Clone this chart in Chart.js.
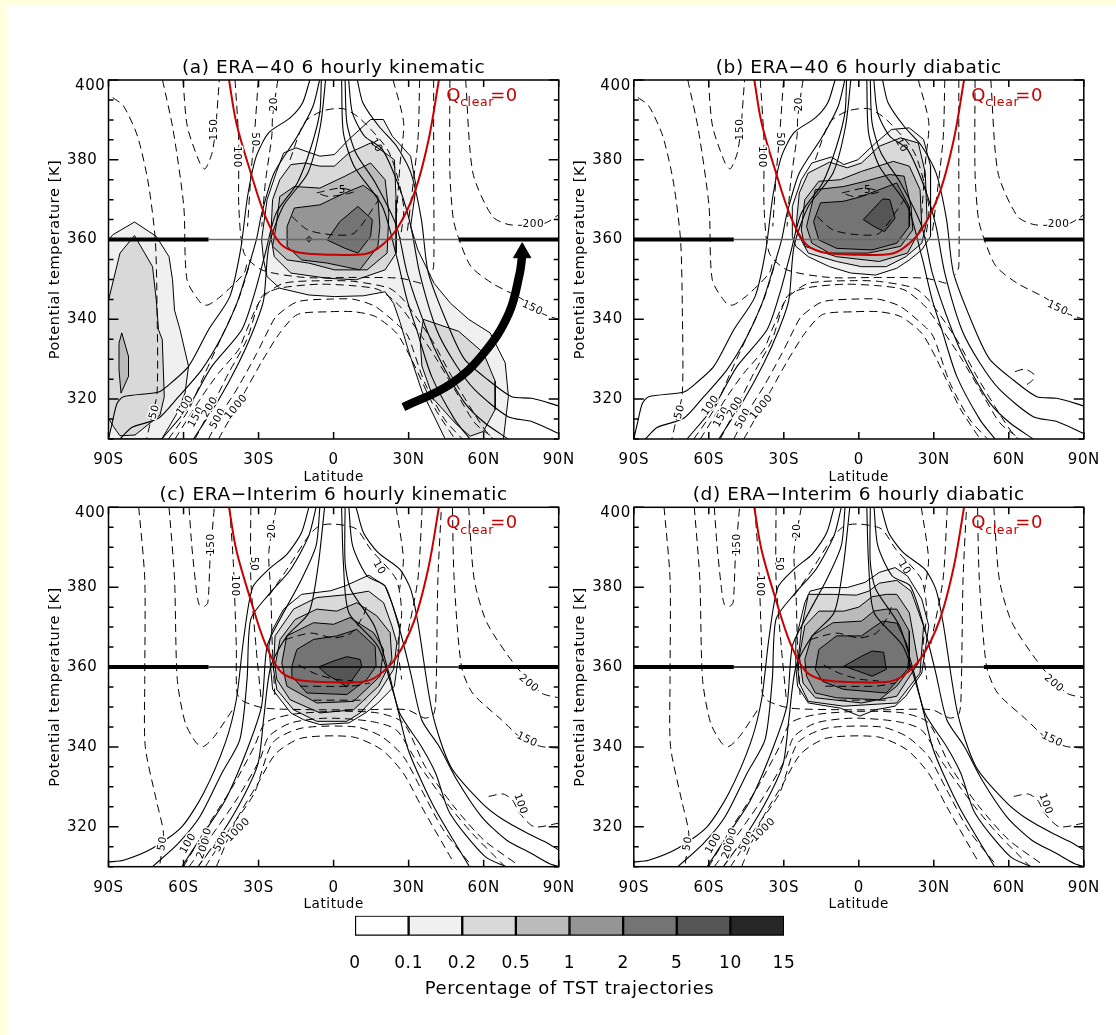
<!DOCTYPE html>
<html>
<head>
<meta charset="utf-8">
<title>TST trajectories</title>
<script src="https://cdn.jsdelivr.net/npm/chart.js@4"></script>
<style>
html, body { margin: 0; background: #fff; }
#page { position: relative; width: 1116px; height: 1035px; overflow: hidden; background: #fff; }
#edgeLeft { position: absolute; left: 0; top: 0; width: 7px; height: 1035px; background: #ffffdf; }
#edgeTop { position: absolute; left: 0; top: 0; width: 1116px; height: 5px; background: #ffffdf; }
canvas { position: absolute; }
</style>
</head>
<body>
<div id="page">
  <div id="edgeLeft"></div>
  <div id="edgeTop"></div>
  <canvas id="panelA" width="551" height="445" style="left:40px;top:45px"></canvas>
  <canvas id="panelB" width="551" height="445" style="left:565px;top:45px"></canvas>
  <canvas id="panelC" width="551" height="445" style="left:40px;top:472px"></canvas>
  <canvas id="panelD" width="551" height="445" style="left:565px;top:472px"></canvas>
  <canvas id="colorBar" width="490" height="103" style="left:330px;top:905px"></canvas>
</div>
<script>
// axes
const latTickLabels = ['90S', '60S', '30S', '0', '30N', '60N', '90N'];
const barTickLabels = ['0', '0.1', '0.2', '0.5', '1', '2', '5', '10', '15'];
const shadeColors = ['#ffffff', '#f0f0f0', '#d9d9d9', '#bbbbbb', '#959595', '#747474', '#555555', '#262626'];

// Q_clear = 0 curve, same in all panels
const qClearLine = [[-41.8,400],[-38.9,389.3],[-33.1,376.7],[-27.3,365.8],[-21.5,359.1],[-15.7,357],[-8.4,356.4],[0.3,356.2],[11.9,356.3],[17.7,357.8],[25,362.4],[32.3,371.7],[38,385.1],[42.1,400]];

// 360 K line
const line360Left = [[-90,360],[-50,360]];
const line360Mid = [[-50,360],[50,360]];
const line360Right = [[50,360],[90,360]];

// arrow in panel a
const arrowShaft = [[27.9,318],[46.8,323.8],[59.9,331.4],[70,341.4],[74.4,351.5],[75.4,356]];
const arrowTip = [[75.4,356.7]];

// ERA-40 solid contours, left and right branches
const e40SolidL1 = [[-90,310],[-88.6,313.8],[-86.6,318.9],[-84,320.6],[-70.3,321.7],[-67,323],[-58,328.2],[-50,337.4],[-41.5,345.7],[-37.2,357.4],[-34.4,370.8],[-30.9,380.9],[-25.9,386.8],[-17.4,390.5],[-12.4,394.3],[-9.5,400]];
const e40SolidL2 = [[-85.4,310],[-80.7,312.9],[-70,315.2],[-62,320.6],[-52.7,327.4],[-44.7,335.7],[-38.7,344],[-34.4,352.4],[-30.9,359.9],[-28.7,366.6],[-23.8,376.7],[-14.5,385.9],[-8.2,393.5],[-5.6,400]];
const e40SolidL3 = [[-68.7,310],[-58,318.1],[-48.7,328.2],[-36.7,337.4],[-31.6,346.5],[-27.3,356.6],[-23,366.6],[-14.5,374.2],[-8.9,383.4],[-5.5,392],[-4.9,400]];
const e40SolidL4 = [[-56,310],[-46,319.8],[-38,329],[-32,337.4],[-28,344.8],[-25.9,358.3],[-20.2,368.3],[-10.3,376.7],[-5.3,388.4],[-3.2,400]];
const e40SolidR1 = [[9.5,400],[11.7,394.3],[18.1,388.4],[25.2,383.4],[30.9,376.7],[35.1,365],[37.9,351.6],[46.5,337.4],[52.5,329.9],[61.8,324.8],[71.2,320.6],[79.2,320.2],[90,318.3]];
const e40SolidR2 = [[6,400],[7.5,391.8],[12.4,385.9],[19.5,382.6],[26.6,372.5],[30.9,363.3],[34.4,351.6],[41.2,337.4],[48.5,329],[56.5,322.3],[69.8,315.6],[79.2,314.4],[90,311.4]];
const e40SolidR3 = [[4.6,400],[5.3,389.3],[8.9,381.7],[16.7,374.2],[25.2,363.3],[29.4,351.6],[37.2,337.4],[43.2,329],[52.5,319],[60.5,314],[69.8,310]];
const e40SolidR4 = [[3.2,400],[3.9,386.8],[8.2,378.4],[19.5,368.3],[25.2,355.7],[29.4,344.8],[33.2,337.4],[39.2,325.7],[48.5,314.8],[54.5,310]];

// ERA-40 dashed contours
const e40Dash50 = [[-88.3,395.6],[-84,393.5],[-78.4,385.9],[-74.1,374.2],[-71.3,359.9],[-70.6,343.2],[-70.6,321.4],[-73.4,313.8],[-74.8,310]];
const e40Dash100a = [[-68.4,400],[-64.2,387.6],[-59.9,368.3],[-58.6,349.9],[-53,344],[-50.2,343.6],[-44.5,346.1],[-35.8,351.6],[-34.4,354.9]];
const e40Dash100b = [[-66,310],[-58,317.3],[-51.4,326.5],[-44.7,335.7],[-38,345],[-33,355]];
const e40Dash150 = [[-60.2,400],[-58.5,388.4],[-53.5,379.2],[-51.4,377.7],[-48.6,381.7],[-47.2,387.6],[-45.7,400]];
const e40DashRim = [[-39.4,400],[-37.9,384.2],[-37.9,368.3],[-35.8,356.6],[-28.7,352.4],[-11.7,350.5],[8.2,350.5],[26.6,350.3],[35.1,349]];
const e40DashUp50 = [[-30.1,400],[-31.6,386.8],[-33,376.7],[-34.4,363.3]];
const e40DashUp20 = [[-22.3,400],[-24.4,390.9],[-24.7,386],[-27.3,374.2],[-28.7,363.3]];
const e40DashArch = [[-17.4,380],[-11.7,389.3],[-4.6,392.2],[3.9,392.8],[11,390.1],[22.3,381.7],[28,368.3],[26.6,359.9]];
const e40DashLoop5 = [[-6.7,371.7],[2.5,372.9],[8.2,372],[-1.8,370.8],[-6.7,371.7]];
const e40DashInner = [[-16.7,365.8],[-10.3,362.4],[-0.4,361.2],[8.2,361.6],[18.1,370]];
const e40DashTopR1 = [[23.8,400],[28,389.3],[26.6,379.2],[25.2,366.6]];
const e40DashTopR2 = [[34.4,400],[33.7,385],[29.4,361.6]];
const e40DashTopR3 = [[40,400],[40,376.7],[40,353.2],[38.6,351.1]];
const e40DashR150 = [[46.5,400],[46.5,376.7],[47.9,365],[50.7,359.1],[55,353.2],[63.5,349],[74.8,345.3],[83.3,341.5],[90,340]];
const e40DashR200 = [[52.8,400],[55.7,376.7],[63.5,365.8],[70.6,363.7],[84,364],[90,366.2]];
const e40DashBell1 = [[-46,310],[-35.4,321.9],[-28.7,329.4],[-21.6,336.5],[-14.5,341.2],[-1.8,341.9],[8.2,341.9],[16.7,340.7],[25.2,336.5],[31.2,329.9],[40.5,317.7],[48.5,310]];
const e40DashBell2 = [[-50,310],[-44.7,316.5],[-38,323.2],[-30.7,331.5],[-26,337.4],[-23,340.7],[-14.5,344.4],[-0.4,345.1],[8.2,345],[16.7,343.2],[26.6,338.1],[29.8,335.7],[36.5,324],[44.5,314.8],[51.5,310]];
const e40DashBell3 = [[-55.4,310],[-48.7,318.1],[-42,326.5],[-34.7,334.9],[-28.7,345.7],[-21.6,347.8],[-6,348.8],[8.2,348.4],[18.1,347.4],[26.6,343.2],[33.8,337],[40.5,330.7],[48.5,322.3],[56.5,314],[64.5,310]];
const e40DashBell4 = [[-63.4,310],[-52.7,320.6],[-46,326.5],[-38,332.4],[-34.7,337.4],[-29,345],[-20.2,349],[-1.8,349.7],[8.2,349.5],[22.3,347.8],[28,344.8],[39.2,334.9],[46.5,326.5],[54.5,318.1],[60.5,312.3],[63.8,310]];
const e40DashLoopR = [[62.5,326.9],[66.5,327.5],[70.2,326.1],[69.6,324.8],[65.8,323]];

// ERA-40 contour labels
const e40LabelText = ['150','100','50','20','10','5','200','150','50','100','150','200','500','1000'];
const e40LabelLat = [-47.6,-38.9,-31.7,-23.7,17,3.5,79.9,79.5,-71.6,-59.3,-54.9,-49.4,-46.2,-38.9];
const e40LabelTheta = [387.6,380.7,385.1,393.9,383.6,372.3,363.9,342.8,316.8,318.4,315.5,318,315.1,318];
const e40LabelAngle = [-90,90,90,-90,60,0,0,25,-75,-55,-60,-60,-60,-50];

// ERA-Interim solid contours
const eiSolidL1 = [[-90,311.2],[-84,311.6],[-72.4,314.6],[-60.7,320],[-52,328.4],[-43.3,341],[-38.9,351.8],[-36,366.9],[-32.4,379.9],[-25.9,384.5],[-18.6,388.3],[-12.8,393.7],[-9.9,400]];
const eiSolidL2 = [[-72.4,310],[-62.2,315.8],[-53.5,322.5],[-44.7,333.4],[-37.5,341.8],[-34.6,356.9],[-33.1,372],[-25.9,378.2],[-17.1,384.5],[-9.9,392.9],[-7,400]];
const eiSolidL3 = [[-60.7,310],[-52,318.3],[-43.3,326.7],[-34.6,339.3],[-28.8,350.2],[-26.6,365.2],[-21.5,371.9],[-12.8,382],[-7,390.4],[-5.5,400]];
const eiSolidL4 = [[-54.2,310],[-44.7,318.3],[-36,327.6],[-30.2,335.9],[-28,346.8],[-25.1,360.2],[-18.6,367.8],[-9.9,373.6],[-6.2,385.3],[-3.6,400]];
const eiSolidR1 = [[9,400],[11.9,393.7],[17.7,388.7],[26.4,384.5],[30.8,379.5],[33.7,371.1],[39.5,348.5],[46.8,335.1],[59.2,326],[67.7,321.8],[77.7,318.3],[84.7,316.2],[90,314.2]];
const eiSolidR2 = [[6.1,400],[7.6,390.4],[13.4,382.8],[20.6,380.3],[26.4,369.4],[30.8,358.5],[35.2,346.8],[42.2,340.1],[49.3,331.7],[59.2,322.5],[69.1,316.7],[79.1,313.3],[86.2,310.8],[90,310]];
const eiSolidR3 = [[4.6,400],[4.6,386.2],[6.8,379.5],[16.3,370.3],[22.1,358.5],[26.4,348.5],[35.1,340.1],[40.8,333.4],[46.5,323.4],[60.6,312.5],[69.1,310]];
const eiSolidR4 = [[3.2,400],[3.9,386.2],[6.1,373.6],[17.7,365.2],[24.3,352.7],[29.4,340.1],[33.7,333.4],[40.8,324.2],[54.3,310]];

// ERA-Interim dashed contours
const eiDash50 = [[-77.9,400],[-75.5,382],[-75.5,356.9],[-75.3,340.1],[-70.9,326.7],[-68,318.3],[-69.4,310.8]];
const eiDash100 = [[-65.8,400],[-63.6,382],[-62.5,356.9],[-59.3,346],[-54.9,341],[-52,340.1],[-47.7,342.6],[-40.4,349.3]];
const eiDash150 = [[-57.8,400],[-56.7,390.4],[-54.9,379.5],[-53.8,375.7],[-52,375.1],[-50.3,376.1],[-49.4,387],[-47.7,400]];
const eiDashRim = [[-41.6,400],[-40.1,386.2],[-38.9,365.2],[-38.6,353.5],[-36,351.4],[-27.3,349.7],[-5.5,349.3],[11.9,349.3],[29.3,349.3],[36.6,347.2],[40.2,348.5],[41,355.2],[41.7,382],[43.1,400]];
const eiDashUp50 = [[-33.1,400],[-33.1,382],[-31,365],[-29,352]];
const eiDashUp20 = [[-23,400],[-25.9,388.7],[-25.1,378.6],[-24.5,365],[-23.5,353]];
const eiDashArch = [[-25.9,377.8],[-18.6,384.5],[-9.9,392.9],[-5.5,395.4],[0.3,395.8],[9,394.6],[14.8,389.5],[25,382],[27.2,373.6],[25.7,365.2],[27.2,356.9]];
const eiDashTopR1 = [[25,400],[27.9,387],[26.4,379.5]];
const eiDashTopR2 = [[35.4,400],[33.7,382],[28.6,365.2]];
const eiDashR150 = [[47.5,400],[48.2,382],[51.1,360.2],[55.5,353.5],[67.1,346.8],[75.8,341.8],[83.1,340.1],[90,339.7]];
const eiDashR200 = [[54,400],[56.2,382],[61.3,371.1],[72.9,360.2],[83.1,353.5],[90,352.3]];
const eiDashR100 = [[62,327.6],[67.8,328.2],[71.5,326.7],[74.4,323.4],[80.2,320],[90,320.9]];
const eiDashBell1 = [[-46.9,310],[-38.9,321.7],[-30.2,330.9],[-23,338.4],[-12.8,342.2],[7.6,342.5],[19.2,339.3],[27.9,333.4],[35.2,325],[48.2,310.8]];
const eiDashBell2 = [[-51.3,310],[-41.8,319.2],[-31.7,328.4],[-24.4,341],[-12.8,344.7],[9,345],[19.2,342.6],[27.9,337.6],[35.2,329.2],[43.9,319.2],[55.5,310]];
const eiDashBell3 = [[-57.8,310],[-49.1,317.5],[-38.9,326.7],[-29.5,336.8],[-25.9,342.6],[-17.1,346],[-2.6,347.2],[14.8,346.4],[25,344.3],[33.7,335.9],[45.3,325.9],[55.5,318.3],[68.6,310]];
const eiDashBell4 = [[-60,310],[-50.6,320],[-40.4,330],[-31.7,340.1],[-27.3,346],[-17.1,348.1],[0.3,348.9],[17.7,348.5],[27.9,346],[36.6,335.1],[48.2,325],[60,316.7],[72.9,310.8]];
const eiDashInner1 = [[-19.4,366.9],[-9,368.5],[0,367.3],[7,368.5],[12,373],[13,375]];
const eiDashInner2 = [[-14,360.5],[-8,358.5],[0,357],[8,356.5]];
const eiDashInner3 = [[-13.4,355.2],[6.6,355.2],[14.6,356]];
const eiDashInner4 = [[-8,351.7],[13,351.7]];

// ERA-Interim contour labels
const eiLabelText = ['150','100','50','20','10','200','150','100','50','100','150','200','500','1000'];
const eiLabelLat = [-48.8,-39.7,-32.1,-24.7,18.2,78,77.3,74.7,-68.4,-58.1,-51.3,-52,-44.7,-38.2];
const eiLabelTheta = [390.8,380.3,385.8,394.1,384.9,355.9,341.8,325.7,315.8,315.8,317.1,314.6,316.3,319.2];
const eiLabelAngle = [-90,90,90,-90,60,40,25,70,-80,-60,-70,-70,-60,-45];

// panel a shading
const aLevel01 = [[-28,354.9],[-28.8,359.9],[-26.6,370],[-23,376.7],[-20,381.7],[-15,383],[-5.5,380.9],[0.3,381.3],[6.1,385.1],[14.8,390.1],[19.9,390.1],[23.5,385.9],[30.8,380.9],[33,373.3],[30.8,363.3],[33.7,357.4],[40.2,349],[46.8,344],[54,340],[62.6,336.6],[68.6,329.1],[69.9,320.7],[67.9,310],[44.6,310],[35.3,322],[30,332],[26.6,339.2],[24,344],[20.6,346.9],[11.9,345.9],[0.3,345.7],[-9.9,346.1],[-21.5,347.8],[-26.6,350.7]];
const aLevel01Left = [[-90,359.9],[-88.3,361.2],[-79.6,364.4],[-70.9,360.8],[-65.8,355.7],[-64.4,349.9],[-63.6,342.3],[-61.4,337.4],[-58,328.2],[-59.4,321.5],[-63,316],[-68.7,310],[-90,310]];
const aLevel02 = [[-25.1,360.8],[-24.4,370],[-21.5,375],[-17.1,378.8],[-11.3,379.2],[-5.5,378.4],[0.3,378.4],[6.1,381.7],[14.8,384.2],[20.6,381.7],[24.3,380],[25,370],[25,356.6],[20.6,352.4],[9,349.9],[-2.6,350.3],[-17.1,351.6],[-23.7,355.7]];
const aLevel02Arm = [[35.9,340],[50,337],[59.9,331.6],[64.6,324.5],[64.6,317.4],[59.9,311.9],[54.6,310.7],[48.6,314],[40,320],[35.3,328.3],[34.6,335]];
const aLevel02Left = [[-90,344.8],[-85.4,356.6],[-79.6,361],[-72.4,353.2],[-70.9,344.8],[-70,337.4],[-68.5,334.9],[-67.7,320.6],[-69.4,316],[-79.4,311],[-85.4,310.8],[-88,313.1],[-90,315.2]];
const aLevel05 = [[-23,363.3],[-21.5,370.8],[-15.7,373.3],[-5.5,372.9],[4.6,375.9],[14.8,379.2],[20.6,375],[22.1,366.6],[21.4,356.6],[13.4,352.4],[0.3,352.4],[-9.9,354.1],[-18.6,354.9],[-24.4,358.3]];
const aLevel05Left = [[-84.7,336.6],[-82,330.7],[-82,325.7],[-85,321.5],[-85.8,327.3],[-85.8,334]];
const aLevel1 = [[-18.6,363.3],[-15.7,367.9],[-5.5,368.7],[4.6,371.7],[11.9,373.6],[17.7,370.8],[18.5,363.3],[17.7,358.3],[10.5,352.4],[-2.6,354.1],[-12.8,354.9],[-18.6,358.3]];
const aLevel2 = [[-2.6,359.9],[2.5,364.5],[9.7,368.3],[15.5,365],[14.8,360.8],[9.7,356.6],[4.6,357.8]];
const aLevel2Dot = [[-9.9,360.8],[-8.7,360.1],[-9.9,359.4],[-11,360.1]];

// panel b shading
const bLevel01 = [[-26.6,360.8],[-26.6,368.3],[-23,375],[-18.8,379.2],[-11,380.7],[-6,378.8],[-0.4,380],[6.7,384.2],[13.1,387.6],[20.2,388],[25.9,385.1],[28.7,378.4],[28.7,370.8],[28.7,360.8],[25.2,357.4],[20.2,354.9],[15.2,352.8],[6.7,351.1],[-3.2,351.6],[-11.7,353.2],[-20.2,355.7],[-25.2,358.3]];
const bLevel02 = [[-25.2,362.4],[-23.8,371.7],[-20.2,376.7],[-11.7,379.4],[-4.6,378],[1.1,379.2],[8.2,383.4],[16.7,385.5],[23.8,384.2],[26.6,376.7],[27.3,365],[25.2,359.1],[18.8,355.7],[11,353.2],[1.1,353.2],[-8.9,354.5],[-20.2,356.6]];
const bLevel05 = [[-23,362.4],[-21.6,370],[-16,374.6],[-7.4,375],[1.1,377.1],[13.8,379.6],[20.2,378.4],[24.5,372.5],[25.2,363.3],[19.5,356.6],[8.2,354.5],[-8.9,355.7],[-21.6,358.3]];
const bLevel1 = [[-20.9,363.3],[-17.4,372.5],[-6,373.3],[2.5,374.6],[12.4,376.3],[18.1,375.9],[20.9,368.3],[21.6,362.4],[16.7,358.3],[3.9,356.6],[-11.7,356.6],[-18.8,359.1]];
const bLevel2 = [[-18.1,364.5],[-15.3,369.2],[-6,369.6],[1.1,370.8],[15.2,374.2],[20.2,368.3],[20.2,363.3],[15.2,359.1],[5.3,357.4],[-8.9,357.8],[-16,359.9]];
const bLevel5 = [[1.8,365],[9.6,370.2],[12.4,370],[14.5,365.4],[10.3,362],[6,363.3]];

// panel c shading
const cLevel01 = [[-24.9,358],[-25.9,365.2],[-24.7,369],[-20,374.5],[-12.8,378.2],[-1.2,379.1],[4.6,380.3],[14.1,383],[20.6,380.3],[23.3,376],[26.4,370.3],[26,363],[24.3,355.2],[17.7,351],[13,348.6],[6.1,346],[-5.5,345.6],[-12,346.8],[-17.1,348.5],[-24.4,354.4]];
const cLevel02 = [[-24,359.4],[-23.4,367.8],[-16,374.5],[-6.7,377.4],[6.6,378.2],[14,379],[20,376.1],[23.3,370.3],[25.3,366],[24,359.4],[18,353.5],[10.6,348.5],[5.3,346.4],[-6.7,346.4],[-16,349.3],[-22.7,354.4]];
const cLevel05 = [[-23.4,360.2],[-21.4,366.9],[-15.4,371.9],[-6.7,374.5],[1.3,374],[9.3,376.1],[17.3,372.8],[22.6,368.6],[23.3,361.9],[18,355.2],[8,349.3],[-5.4,348.5],[-17.4,351.8],[-22.7,356.9]];
const cLevel1 = [[-20.7,361],[-18.7,367.8],[-8,371.1],[0,370.7],[6.6,372.4],[16,368.6],[20,364.4],[18.6,357.7],[8,351.4],[-6.7,351],[-18.7,355.2]];
const cLevel2 = [[-16.7,360.2],[-14.7,364.4],[-8,366.9],[1.3,367.8],[9.3,369.4],[16.6,365.2],[17,360.2],[13.3,356.9],[5.3,353.1],[-10.7,353.5],[-16.7,357.7]];
const cLevel5 = [[-6,360],[0,361.5],[5.3,362.6],[10.6,361.9],[11.3,360.2],[8,357.3],[5.3,355],[2,356.4],[-2.7,358.1]];

// panel d shading
const dLevel01 = [[-25.2,360.2],[-25.2,366.9],[-21.6,376.1],[-19.5,379],[-13.8,379.9],[-4.6,379.9],[2.5,381.2],[8.2,383.7],[14.5,384.9],[19.5,382.8],[25.2,377],[28,370.3],[25.2,358.5],[18.8,352.7],[14.5,350.2],[6.7,349.3],[0.4,347.7],[-7.4,349.7],[-20.2,351],[-24.5,355.2]];
const dLevel02 = [[-24.5,360.2],[-23,369.4],[-20.2,378.2],[-10.3,378.2],[-1,378],[4,379],[8.2,381],[15.2,381.7],[20.9,379],[25.9,370.3],[24.5,358.5],[15.2,351],[-6,350.2],[-20.2,351.4],[-23.8,356]];
const dLevel05 = [[-23.8,362.7],[-21.6,370.3],[-16,374],[-6,374],[0,375],[5.3,377.6],[11,378.2],[15.2,378.2],[20.2,373.6],[23.8,361],[15.2,352.7],[1.1,351],[-17.4,352.3],[-22.3,356]];
const dLevel1 = [[-21.6,361.9],[-18.8,367.8],[-10.3,371.1],[1.1,371.5],[6,374],[11,374.5],[15.2,374.5],[20.2,369],[20.2,359.4],[15.2,355.2],[8.2,351.8],[-8.9,352.3],[-17.4,353.5],[-20.9,357.7]];
const dLevel2 = [[-17.4,359.4],[-16,364.4],[-8.9,367.8],[1.1,367.8],[6,370],[9.6,371.5],[15.2,371],[19,366],[20.2,363.6],[19.5,359.4],[11,353.5],[-6,354.4],[-14.5,356.4]];
const dLevel5 = [[-6,360.2],[1.1,362.7],[5.3,364],[9.9,363.7],[11,359.4],[5.3,357.7],[-0.4,359]];

const FONT = '"DejaVu Sans"';
const INK = '#000000';
const RED = '#c80000';

function solidLine(points) {
  return { data: points, showLine: true, borderColor: INK, borderWidth: 1.1, pointRadius: 0, tension: 0.25, fill: false };
}

function dashLine(points) {
  return { data: points, showLine: true, borderColor: INK, borderWidth: 1, borderDash: [8, 5], pointRadius: 0, tension: 0.25, fill: false };
}

function shadeArea(points, shade) {
  return {
    data: points.concat([points[0]]),
    showLine: true,
    fill: 'shape',
    backgroundColor: shade,
    borderColor: INK,
    borderWidth: 1,
    pointRadius: 0,
    tension: 0
  };
}

// hershey-style text runs wide, so open up every canvas a little
const wideText = {
  id: 'wideText',
  beforeDraw(chart) {
    chart.ctx.letterSpacing = '0.6px';
  }
};

// frame, inward ticks and the text inside a panel
const panelFurniture = {
  id: 'panelFurniture',
  afterDatasetsDraw(chart, args, opts) {
    const ctx = chart.ctx;
    const { left, right, top, bottom } = chart.chartArea;
    const xs = chart.scales.x;
    const ys = chart.scales.y;
    ctx.save();
    ctx.strokeStyle = INK;
    ctx.lineWidth = 1.5;
    ctx.strokeRect(left, top, right - left, bottom - top);
    ctx.beginPath();
    xs.ticks.forEach(t => {
      const px = xs.getPixelForValue(t.value);
      ctx.moveTo(px, bottom);
      ctx.lineTo(px, bottom - 7);
      ctx.moveTo(px, top);
      ctx.lineTo(px, top + 7);
    });
    ys.ticks.forEach(t => {
      const py = ys.getPixelForValue(t.value);
      const len = t.value % 20 === 0 ? 10 : 5;
      ctx.moveTo(left, py);
      ctx.lineTo(left + len, py);
      ctx.moveTo(right, py);
      ctx.lineTo(right - len, py);
    });
    ctx.stroke();

    // contour labels, with a gap cut in the lines outside the shading
    ctx.fillStyle = INK;
    ctx.font = '10.5px ' + FONT;
    ctx.textAlign = 'center';
    ctx.textBaseline = 'middle';
    ctx.lineWidth = 3;
    ctx.strokeStyle = '#ffffff';
    opts.labelText.forEach((txt, i) => {
      ctx.save();
      ctx.translate(xs.getPixelForValue(opts.labelLat[i]), ys.getPixelForValue(opts.labelTheta[i]));
      ctx.rotate(opts.labelAngle[i] * Math.PI / 180);
      if (txt !== '5' && txt !== '10') ctx.strokeText(txt, 0, 0);
      ctx.fillText(txt, 0, 0);
      ctx.restore();
    });

    // Q_clear=0
    const qx = xs.getPixelForValue(45);
    const qy = top + 16;
    ctx.fillStyle = RED;
    ctx.textAlign = 'left';
    ctx.font = '18px ' + FONT;
    ctx.fillText('Q', qx, qy);
    ctx.fillText('=0', qx + 44, qy);
    ctx.font = '12.5px ' + FONT;
    ctx.fillText('clear', qx + 14, qy + 7);

    // the top label sits just below its tick
    ctx.fillStyle = INK;
    ctx.textAlign = 'right';
    ctx.font = opts.tickFont;
    ctx.fillText('400', left - 3, top + 6);
    ctx.restore();
  }
};

function buildPanel(canvasId, cfg) {
  const datasets = [];
  cfg.shades.forEach(s => datasets.push(shadeArea(s[0], shadeColors[s[1]])));
  cfg.solids.forEach(p => datasets.push(solidLine(p)));
  cfg.dashes.forEach(p => datasets.push(dashLine(p)));
  datasets.push({ data: line360Mid, showLine: true, borderColor: cfg.thinColor, borderWidth: 1.5, pointRadius: 0 });
  datasets.push({ data: line360Left, showLine: true, borderColor: INK, borderWidth: 4, pointRadius: 0 });
  datasets.push({ data: line360Right, showLine: true, borderColor: INK, borderWidth: 4, pointRadius: 0 });
  datasets.push({ data: qClearLine, showLine: true, borderColor: RED, borderWidth: 2, pointRadius: 0, tension: 0.35 });
  if (cfg.arrow) {
    datasets.push({ data: arrowShaft, showLine: true, borderColor: INK, borderWidth: 8.5, pointRadius: 0, tension: 0.4 });
    datasets.push({ data: arrowTip, showLine: false, backgroundColor: INK, borderColor: INK, pointStyle: 'triangle', pointRadius: 10 });
  }
  // chart.js paints the first dataset last
  datasets.reverse();

  return new Chart(document.getElementById(canvasId), {
    type: 'scatter',
    data: { datasets },
    plugins: [wideText, panelFurniture],
    options: {
      responsive: false,
      animation: false,
      events: [],
      layout: { padding: { left: 0, right: cfg.padRight, top: 0, bottom: 0 } },
      scales: {
        x: {
          type: 'linear',
          min: -90,
          max: 90,
          grid: { display: false },
          border: { display: false },
          afterFit: s => { s.height = cfg.xHeight; },
          ticks: {
            stepSize: 30,
            autoSkip: false,
            maxRotation: 0,
            padding: 4,
            color: INK,
            font: { family: FONT, size: 15 },
            callback: v => latTickLabels[(v + 90) / 30]
          },
          title: { display: true, text: 'Latitude', color: INK, font: { family: FONT, size: 13.5 }, padding: { top: 0, bottom: 4 } }
        },
        y: {
          type: 'linear',
          min: 310,
          max: 400,
          grid: { display: false },
          border: { display: false },
          afterFit: s => { s.width = cfg.yWidth; },
          ticks: {
            stepSize: 5,
            autoSkip: false,
            padding: 3,
            color: INK,
            font: { family: FONT, size: 15 },
            callback: v => (v % 20 === 0 && v !== 400 ? String(v) : '')
          },
          title: { display: true, text: 'Potential temperature [K]', color: INK, font: { family: FONT, size: 14.5 }, padding: { top: 7, bottom: 0 } }
        }
      },
      plugins: {
        legend: { display: false },
        tooltip: { enabled: false },
        title: {
          display: true,
          text: cfg.title,
          color: INK,
          fullSize: false,
          font: { family: FONT, size: 18.5, weight: 'normal', lineHeight: 1.2 },
          padding: { top: 12, bottom: cfg.titleGap }
        },
        panelFurniture: {
          labelText: cfg.labels[0],
          labelLat: cfg.labels[1],
          labelTheta: cfg.labels[2],
          labelAngle: cfg.labels[3],
          tickFont: '15px ' + FONT
        }
      }
    }
  });
}

const e40Solids = [e40SolidL1, e40SolidL2, e40SolidL3, e40SolidL4, e40SolidR1, e40SolidR2, e40SolidR3, e40SolidR4];
const e40Dashes = [e40Dash50, e40Dash100a, e40Dash100b, e40Dash150, e40DashRim, e40DashUp50, e40DashUp20, e40DashArch, e40DashLoop5, e40DashInner, e40DashTopR1, e40DashTopR2, e40DashTopR3, e40DashR150, e40DashR200, e40DashBell1, e40DashBell2, e40DashBell3, e40DashBell4];
const e40Labels = [e40LabelText, e40LabelLat, e40LabelTheta, e40LabelAngle];
const eiSolids = [eiSolidL1, eiSolidL2, eiSolidL3, eiSolidL4, eiSolidR1, eiSolidR2, eiSolidR3, eiSolidR4];
const eiDashes = [eiDash50, eiDash100, eiDash150, eiDashRim, eiDashUp50, eiDashUp20, eiDashArch, eiDashTopR1, eiDashTopR2, eiDashR150, eiDashR200, eiDashR100, eiDashBell1, eiDashBell2, eiDashBell3, eiDashBell4, eiDashInner1, eiDashInner2, eiDashInner3, eiDashInner4];
const eiLabels = [eiLabelText, eiLabelLat, eiLabelTheta, eiLabelAngle];

buildPanel('panelA', {
  title: '(a) ERA\u221240 6 hourly kinematic',
  shades: [[aLevel01, 1], [aLevel01Left, 1], [aLevel02, 2], [aLevel02Arm, 2], [aLevel02Left, 2], [aLevel05, 3], [aLevel05Left, 3], [aLevel1, 4], [aLevel2, 5], [aLevel2Dot, 5]],
  solids: e40Solids, dashes: e40Dashes, labels: e40Labels,
  thinColor: '#666666', arrow: true,
  yWidth: 68.5, xHeight: 51, padRight: 32.3, titleGap: 0.8
});
buildPanel('panelB', {
  title: '(b) ERA\u221240 6 hourly diabatic',
  shades: [[bLevel01, 1], [bLevel02, 2], [bLevel05, 3], [bLevel1, 4], [bLevel2, 5], [bLevel5, 6]],
  solids: e40Solids, dashes: e40Dashes.concat([e40DashLoopR]), labels: e40Labels,
  thinColor: '#666666', arrow: false,
  yWidth: 68.8, xHeight: 51, padRight: 32.2, titleGap: 0.8
});
buildPanel('panelC', {
  title: '(c) ERA\u2212Interim 6 hourly kinematic',
  shades: [[cLevel01, 1], [cLevel02, 2], [cLevel05, 3], [cLevel1, 4], [cLevel2, 5], [cLevel5, 6]],
  solids: eiSolids, dashes: eiDashes, labels: eiLabels,
  thinColor: INK, arrow: false,
  yWidth: 68.5, xHeight: 50.3, padRight: 32.3, titleGap: 1.1
});
buildPanel('panelD', {
  title: '(d) ERA\u2212Interim 6 hourly diabatic',
  shades: [[dLevel01, 1], [dLevel02, 2], [dLevel05, 3], [dLevel1, 4], [dLevel2, 5], [dLevel5, 6]],
  solids: eiSolids, dashes: eiDashes, labels: eiLabels,
  thinColor: INK, arrow: false,
  yWidth: 68.8, xHeight: 50.3, padRight: 32.2, titleGap: 1.1
});

// colour bar
new Chart(document.getElementById('colorBar'), {
  type: 'bar',
  data: {
    labels: [''],
    datasets: shadeColors.map(c => ({ data: [1], backgroundColor: c, borderColor: INK, borderWidth: 1.5, borderSkipped: false, categoryPercentage: 1, barPercentage: 1 }))
  },
  plugins: [wideText],
  options: {
    indexAxis: 'y',
    responsive: false,
    animation: false,
    events: [],
    layout: { padding: { left: 25, right: 36, top: 10.7, bottom: 0 } },
    scales: {
      x: {
        type: 'linear',
        stacked: true,
        min: 0,
        max: 8,
        grid: { display: false },
        border: { display: false },
        afterFit: s => { s.height = 72.3; },
        ticks: {
          stepSize: 1,
          autoSkip: false,
          maxRotation: 0,
          padding: 10,
          color: INK,
          font: { family: FONT, size: 17 },
          callback: v => barTickLabels[v]
        },
        title: { display: true, text: 'Percentage of TST trajectories', color: INK, font: { family: FONT, size: 18 }, padding: { top: 0, bottom: 8 } }
      },
      y: { stacked: true, display: false }
    },
    plugins: { legend: { display: false }, tooltip: { enabled: false } }
  }
});
</script>
</body>
</html>
